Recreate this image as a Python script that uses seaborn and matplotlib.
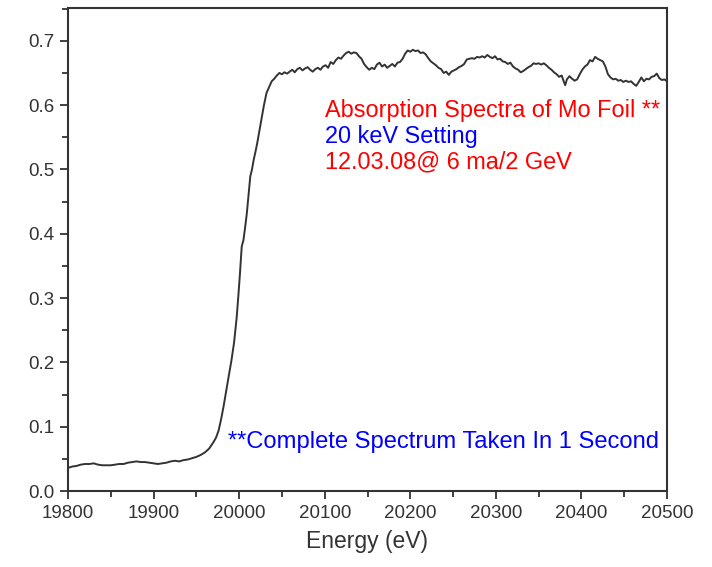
import matplotlib
matplotlib.use("Agg")
import matplotlib.pyplot as plt
from matplotlib.ticker import MultipleLocator
import seaborn as sns
import pandas as pd

energy_pre = [19800, 19805, 19810, 19815, 19820, 19825, 19830, 19835, 19840, 19845,
              19850, 19855, 19860, 19865, 19870, 19875, 19880, 19885, 19890, 19895,
              19900, 19905, 19910, 19915, 19920, 19925, 19930, 19935, 19940, 19945,
              19950, 19955, 19960, 19965]
mu_pre = [0.036, 0.038, 0.039, 0.041, 0.042, 0.042, 0.043, 0.041, 0.040, 0.040,
          0.040, 0.041, 0.042, 0.042, 0.044, 0.045, 0.046, 0.045, 0.045, 0.044,
          0.043, 0.042, 0.043, 0.044, 0.046, 0.047, 0.046, 0.048, 0.049, 0.051,
          0.053, 0.056, 0.060, 0.066]

energy_edge = [19970, 19973, 19976, 19979, 19982, 19985, 19988, 19991, 19994, 19997,
               19999, 20001, 20003, 20005, 20007, 20009, 20011, 20013, 20015, 20017,
               20019, 20021, 20023, 20026, 20029, 20032, 20035, 20038, 20041, 20044,
               20047]
mu_edge = [0.076, 0.083, 0.094, 0.112, 0.133, 0.157, 0.180, 0.203, 0.230, 0.268,
           0.302, 0.339, 0.380, 0.390, 0.410, 0.432, 0.460, 0.489, 0.500, 0.515,
           0.527, 0.540, 0.555, 0.577, 0.600, 0.619, 0.628, 0.637, 0.641, 0.646,
           0.650]

energy_post1 = [20050, 20053, 20056, 20059, 20062, 20065, 20068, 20071, 20074, 20077,
                20080, 20083, 20086, 20089, 20092, 20095, 20098, 20101, 20104, 20107,
                20110, 20113, 20116, 20119, 20122, 20125, 20128, 20131, 20134, 20137,
                20140, 20143, 20146, 20149, 20152, 20155, 20158, 20161, 20164, 20167,
                20170, 20173, 20176, 20179, 20182, 20185, 20188, 20191, 20194, 20197,
                20200, 20203, 20206, 20209, 20212, 20215, 20218, 20221, 20224, 20227,
                20230, 20233, 20236, 20239, 20242, 20245, 20248, 20251, 20254, 20257,
                20260, 20263, 20266, 20269, 20272]
mu_post1 = [0.648, 0.651, 0.649, 0.652, 0.655, 0.651, 0.656, 0.658, 0.654, 0.657,
            0.659, 0.655, 0.652, 0.656, 0.658, 0.655, 0.660, 0.662, 0.658, 0.667,
            0.664, 0.670, 0.674, 0.672, 0.677, 0.681, 0.683, 0.680, 0.682, 0.681,
            0.676, 0.672, 0.664, 0.659, 0.655, 0.658, 0.656, 0.663, 0.666, 0.660,
            0.663, 0.658, 0.661, 0.664, 0.660, 0.666, 0.667, 0.672, 0.680, 0.685,
            0.683, 0.686, 0.684, 0.685, 0.681, 0.682, 0.679, 0.673, 0.668, 0.665,
            0.662, 0.658, 0.656, 0.650, 0.652, 0.647, 0.652, 0.654, 0.656, 0.659,
            0.661, 0.664, 0.671, 0.672, 0.673]

energy_post2 = [20275, 20278, 20281, 20284, 20287, 20290, 20293, 20296, 20299, 20302,
                20305, 20308, 20311, 20314, 20317, 20320, 20323, 20326, 20329, 20332,
                20335, 20338, 20341, 20344, 20347, 20350, 20353, 20356, 20359, 20362,
                20365, 20368, 20371, 20374, 20377, 20379, 20381, 20383, 20386, 20389,
                20392, 20395, 20398, 20401, 20404, 20407, 20410, 20413, 20416, 20419,
                20422, 20425, 20428, 20431, 20434, 20437, 20440, 20443, 20446, 20449,
                20452, 20455, 20458, 20461, 20464, 20467, 20470, 20473, 20476, 20479,
                20482, 20485, 20488, 20491, 20494, 20497, 20500]
mu_post2 = [0.672, 0.675, 0.674, 0.676, 0.674, 0.678, 0.675, 0.673, 0.676, 0.671,
            0.672, 0.668, 0.667, 0.664, 0.666, 0.660, 0.657, 0.655, 0.651, 0.653,
            0.656, 0.659, 0.661, 0.665, 0.664, 0.665, 0.663, 0.665, 0.662, 0.658,
            0.655, 0.651, 0.648, 0.644, 0.646, 0.638, 0.631, 0.640, 0.645, 0.641,
            0.638, 0.640, 0.648, 0.655, 0.660, 0.663, 0.670, 0.668, 0.675, 0.672,
            0.670, 0.668, 0.660, 0.648, 0.643, 0.640, 0.641, 0.638, 0.639, 0.636,
            0.638, 0.636, 0.637, 0.633, 0.630, 0.636, 0.643, 0.637, 0.641, 0.640,
            0.644, 0.645, 0.649, 0.642, 0.639, 0.640, 0.637]

x_ticks = [19800, 19900, 20000, 20100, 20200, 20300, 20400, 20500]
y_ticks = [0.0, 0.1, 0.2, 0.3, 0.4, 0.5, 0.6, 0.7]

label_lines = ["Absorption Spectra of Mo Foil **", "20 keV Setting", "12.03.08@ 6 ma/2 GeV"]
label_colors = ["#ff0000", "#0000ff", "#ff0000"]
note_text = "**Complete Spectrum Taken In 1 Second"

df = pd.DataFrame({
    "Energy": energy_pre + energy_edge + energy_post1 + energy_post2,
    "mu": mu_pre + mu_edge + mu_post1 + mu_post2,
})

sns.set_theme(style="ticks")
plt.rcParams["font.family"] = ["Liberation Sans", "DejaVu Sans"]

fig = plt.figure(figsize=(7.12, 5.67), dpi=100)
ax = fig.add_axes([68 / 712, 76 / 567, 599 / 712, 483 / 567])
sns.lineplot(data=df, x="Energy", y="mu", ax=ax, color="#333333", linewidth=1.4,
             estimator=None, sort=False)

ax.set_xlim(19800, 20500)
ax.set_ylim(0, 0.751)
ax.set_xticks(x_ticks)
ax.set_yticks(y_ticks)
ax.set_xticklabels([str(v) for v in x_ticks])
ax.set_yticklabels([f"{v:.1f}" for v in y_ticks])
ax.xaxis.set_minor_locator(MultipleLocator(50))
ax.yaxis.set_minor_locator(MultipleLocator(0.05))
ax.tick_params(which="major", direction="out", length=6, width=1.3, colors="#333333",
               labelsize=13.5, labelcolor="#333333", pad=4)
ax.tick_params(which="minor", direction="out", length=4, width=1.3, colors="#333333")
for s in ax.spines.values():
    s.set_color("#333333")
    s.set_linewidth(1.5)
    s.set_visible(True)

ax.set_xlabel("Energy (eV)", fontsize=16.5, color="#333333", labelpad=6)
ax.set_ylabel("")

ys = [0.582, 0.541, 0.501]
for txt, c, yv in zip(label_lines, label_colors, ys):
    ax.text(20100, yv, txt, color=c, fontsize=16.9, ha="left", va="baseline")
ax.text(19987, 0.0674, note_text, color="#0000ff", fontsize=17.1, ha="left", va="baseline")

fig.savefig("out.png", dpi=100)
